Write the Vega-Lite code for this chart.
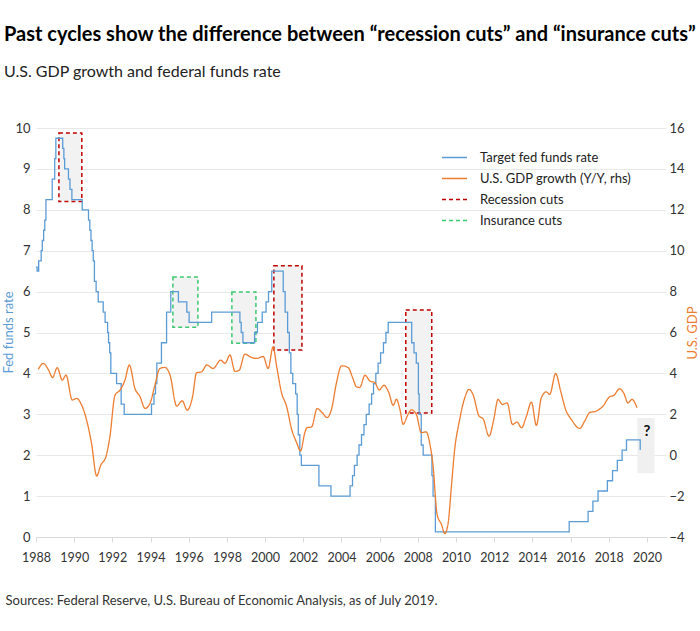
{
  "$schema": "https://vega.github.io/schema/vega-lite/v6.json",
  "autosize": {"type": "none"},
  "width": 630,
  "height": 409,
  "padding": {"left": 36, "top": 128, "right": 34, "bottom": 94},
  "background": "white",
  "title": {
    "text": "Past cycles show the difference between “recession cuts” and “insurance cuts”",
    "subtitle": "U.S. GDP growth and federal funds rate",
    "anchor": "start",
    "frame": "group",
    "dx": -32,
    "offset": 42,
    "font": "Lato",
    "fontSize": 20,
    "fontWeight": "bold",
    "color": "#000000",
    "subtitleFont": "Lato",
    "subtitleFontSize": 16,
    "subtitleColor": "#222222",
    "subtitlePadding": 19
  },
  "config": {
    "view": {"stroke": null},
    "axis": {"labelFont": "Lato", "titleFont": "Lato", "labelFontSize": 12.5, "labelColor": "#333333", "titleFontWeight": "normal", "titleFontSize": 13},
    "axisX": {"labelOverlap": false, "labelFlush": false, "tickColor": "#d9d9d9", "tickSize": 5, "domainColor": "#d9d9d9", "labelPadding": 9, "grid": false},
    "legend": {"labelFont": "Lato", "labelFontSize": 13, "labelColor": "#222222"}
  },
  "datasets": {
    "cuts": [
      {"start": 1989.2, "end": 1990.4, "low": 8.2, "high": 9.88, "series": "Recession cuts"},
      {"start": 1995.17, "end": 1996.48, "low": 5.13, "high": 6.36, "series": "Insurance cuts"},
      {"start": 1998.26, "end": 1999.52, "low": 4.74, "high": 5.99, "series": "Insurance cuts"},
      {"start": 2000.46, "end": 2001.93, "low": 4.57, "high": 6.63, "series": "Recession cuts"},
      {"start": 2007.37, "end": 2008.73, "low": 3.03, "high": 5.55, "series": "Recession cuts"}
    ],
    "pending": [
      {"start": 2019.5, "end": 2020.4, "low": 1.56, "high": 2.91, "mid": 2020.0, "labelY": 2.6, "label": "?"}
    ],
    "fed": [
      {"year": 1988.0, "rate": 6.6}, {"year": 1988.06, "rate": 6.5}, {"year": 1988.14, "rate": 6.75},
      {"year": 1988.27, "rate": 7.0}, {"year": 1988.33, "rate": 7.25}, {"year": 1988.4, "rate": 7.5},
      {"year": 1988.46, "rate": 7.75}, {"year": 1988.52, "rate": 8.25}, {"year": 1988.85, "rate": 8.75},
      {"year": 1988.98, "rate": 9.25}, {"year": 1989.04, "rate": 9.75}, {"year": 1989.4, "rate": 9.5},
      {"year": 1989.46, "rate": 9.25}, {"year": 1989.5, "rate": 9.0}, {"year": 1989.7, "rate": 8.75},
      {"year": 1989.78, "rate": 8.5}, {"year": 1989.88, "rate": 8.25}, {"year": 1990.42, "rate": 8.0},
      {"year": 1990.75, "rate": 7.75}, {"year": 1990.82, "rate": 7.5}, {"year": 1990.88, "rate": 7.25},
      {"year": 1990.94, "rate": 7.0}, {"year": 1991.0, "rate": 6.75}, {"year": 1991.06, "rate": 6.25},
      {"year": 1991.15, "rate": 6.0}, {"year": 1991.26, "rate": 5.75}, {"year": 1991.52, "rate": 5.5},
      {"year": 1991.62, "rate": 5.25}, {"year": 1991.75, "rate": 5.0}, {"year": 1991.8, "rate": 4.75},
      {"year": 1991.86, "rate": 4.5}, {"year": 1991.92, "rate": 4.0}, {"year": 1992.22, "rate": 3.75},
      {"year": 1992.46, "rate": 3.25}, {"year": 1992.62, "rate": 3.0}, {"year": 1994.05, "rate": 3.25},
      {"year": 1994.18, "rate": 3.5}, {"year": 1994.26, "rate": 3.75}, {"year": 1994.33, "rate": 4.25},
      {"year": 1994.57, "rate": 4.75}, {"year": 1994.84, "rate": 5.5}, {"year": 1995.06, "rate": 6.0},
      {"year": 1995.46, "rate": 5.75}, {"year": 1995.9, "rate": 5.5}, {"year": 1996.02, "rate": 5.25},
      {"year": 1997.2, "rate": 5.5}, {"year": 1998.68, "rate": 5.25}, {"year": 1998.75, "rate": 5.0},
      {"year": 1998.84, "rate": 4.75}, {"year": 1999.45, "rate": 5.0}, {"year": 1999.6, "rate": 5.25},
      {"year": 1999.85, "rate": 5.5}, {"year": 2000.05, "rate": 5.75}, {"year": 2000.18, "rate": 6.0},
      {"year": 2000.35, "rate": 6.5}, {"year": 2000.95, "rate": 6.0}, {"year": 2001.05, "rate": 5.5},
      {"year": 2001.18, "rate": 5.0}, {"year": 2001.27, "rate": 4.5}, {"year": 2001.35, "rate": 4.0},
      {"year": 2001.45, "rate": 3.75}, {"year": 2001.6, "rate": 3.5}, {"year": 2001.68, "rate": 3.0},
      {"year": 2001.74, "rate": 2.5}, {"year": 2001.82, "rate": 2.0}, {"year": 2001.9, "rate": 1.75},
      {"year": 2002.82, "rate": 1.25}, {"year": 2003.45, "rate": 1.0}, {"year": 2004.45, "rate": 1.25},
      {"year": 2004.58, "rate": 1.5}, {"year": 2004.68, "rate": 1.75}, {"year": 2004.82, "rate": 2.0},
      {"year": 2004.92, "rate": 2.25}, {"year": 2005.05, "rate": 2.5}, {"year": 2005.18, "rate": 2.75},
      {"year": 2005.3, "rate": 3.0}, {"year": 2005.45, "rate": 3.25}, {"year": 2005.58, "rate": 3.5},
      {"year": 2005.68, "rate": 3.75}, {"year": 2005.8, "rate": 4.0}, {"year": 2005.92, "rate": 4.25},
      {"year": 2006.05, "rate": 4.5}, {"year": 2006.2, "rate": 4.75}, {"year": 2006.33, "rate": 5.0},
      {"year": 2006.45, "rate": 5.25}, {"year": 2007.68, "rate": 4.75}, {"year": 2007.8, "rate": 4.5},
      {"year": 2007.92, "rate": 4.25}, {"year": 2008.03, "rate": 3.5}, {"year": 2008.07, "rate": 3.0},
      {"year": 2008.18, "rate": 2.25}, {"year": 2008.28, "rate": 2.0}, {"year": 2008.74, "rate": 1.5},
      {"year": 2008.8, "rate": 1.0}, {"year": 2008.92, "rate": 0.125}, {"year": 2015.93, "rate": 0.375},
      {"year": 2016.92, "rate": 0.625}, {"year": 2017.17, "rate": 0.875}, {"year": 2017.44, "rate": 1.125},
      {"year": 2017.93, "rate": 1.375}, {"year": 2018.2, "rate": 1.625}, {"year": 2018.45, "rate": 1.875},
      {"year": 2018.7, "rate": 2.125}, {"year": 2018.93, "rate": 2.375}, {"year": 2019.58, "rate": 2.375},
      {"year": 2019.65, "rate": 2.125}
    ],
    "gdp": [
      {"year": 1988.12, "gdp": 4.2}, {"year": 1988.38, "gdp": 4.49}, {"year": 1988.64, "gdp": 4.2},
      {"year": 1988.87, "gdp": 3.8}, {"year": 1989.11, "gdp": 4.28}, {"year": 1989.38, "gdp": 3.67},
      {"year": 1989.57, "gdp": 3.92}, {"year": 1989.9, "gdp": 2.7}, {"year": 1990.13, "gdp": 2.78},
      {"year": 1990.39, "gdp": 2.45}, {"year": 1990.65, "gdp": 1.72}, {"year": 1990.91, "gdp": 0.57},
      {"year": 1991.18, "gdp": -1.02}, {"year": 1991.39, "gdp": -0.49}, {"year": 1991.66, "gdp": -0.08},
      {"year": 1991.87, "gdp": 0.9}, {"year": 1992.14, "gdp": 2.94}, {"year": 1992.4, "gdp": 3.18},
      {"year": 1992.66, "gdp": 3.67}, {"year": 1992.89, "gdp": 4.41}, {"year": 1993.18, "gdp": 3.27},
      {"year": 1993.45, "gdp": 2.86}, {"year": 1993.71, "gdp": 2.29}, {"year": 1993.97, "gdp": 2.53},
      {"year": 1994.23, "gdp": 3.43}, {"year": 1994.49, "gdp": 4.24}, {"year": 1994.75, "gdp": 4.29},
      {"year": 1995.02, "gdp": 3.92}, {"year": 1995.37, "gdp": 2.4}, {"year": 1995.66, "gdp": 2.66},
      {"year": 1995.92, "gdp": 2.2}, {"year": 1996.2, "gdp": 2.86}, {"year": 1996.41, "gdp": 4.03},
      {"year": 1996.68, "gdp": 4.08}, {"year": 1996.94, "gdp": 4.41}, {"year": 1997.28, "gdp": 4.24},
      {"year": 1997.67, "gdp": 4.65}, {"year": 1997.9, "gdp": 4.49}, {"year": 1998.16, "gdp": 4.9},
      {"year": 1998.42, "gdp": 4.1}, {"year": 1998.64, "gdp": 4.15}, {"year": 1998.94, "gdp": 4.94},
      {"year": 1999.29, "gdp": 4.78}, {"year": 1999.55, "gdp": 4.73}, {"year": 1999.9, "gdp": 4.83},
      {"year": 2000.16, "gdp": 4.24}, {"year": 2000.42, "gdp": 5.3}, {"year": 2000.6, "gdp": 4.37},
      {"year": 2000.86, "gdp": 3.06}, {"year": 2001.12, "gdp": 2.41}, {"year": 2001.39, "gdp": 1.27},
      {"year": 2001.65, "gdp": 0.62}, {"year": 2001.86, "gdp": 0.21}, {"year": 2002.08, "gdp": 1.1},
      {"year": 2002.2, "gdp": 1.35}, {"year": 2002.43, "gdp": 1.38}, {"year": 2002.73, "gdp": 2.28},
      {"year": 2002.99, "gdp": 2.08}, {"year": 2003.25, "gdp": 1.84}, {"year": 2003.48, "gdp": 2.25},
      {"year": 2003.74, "gdp": 3.55}, {"year": 2004.0, "gdp": 4.37}, {"year": 2004.35, "gdp": 4.29},
      {"year": 2004.58, "gdp": 3.8}, {"year": 2004.79, "gdp": 3.34}, {"year": 2004.96, "gdp": 3.31},
      {"year": 2005.23, "gdp": 3.91}, {"year": 2005.49, "gdp": 3.63}, {"year": 2005.75, "gdp": 3.55},
      {"year": 2005.98, "gdp": 3.19}, {"year": 2006.22, "gdp": 3.42}, {"year": 2006.48, "gdp": 3.06},
      {"year": 2006.71, "gdp": 2.44}, {"year": 2006.88, "gdp": 2.74}, {"year": 2007.06, "gdp": 2.25},
      {"year": 2007.23, "gdp": 1.51}, {"year": 2007.49, "gdp": 2.0}, {"year": 2007.66, "gdp": 2.22},
      {"year": 2007.92, "gdp": 2.0}, {"year": 2008.18, "gdp": 1.1}, {"year": 2008.44, "gdp": 1.14},
      {"year": 2008.62, "gdp": 0.6}, {"year": 2008.8, "gdp": -0.54}, {"year": 2009.01, "gdp": -2.9},
      {"year": 2009.24, "gdp": -3.39}, {"year": 2009.41, "gdp": -3.83}, {"year": 2009.59, "gdp": -3.31},
      {"year": 2009.76, "gdp": -1.51}, {"year": 2009.93, "gdp": 0.28}, {"year": 2010.16, "gdp": 1.59},
      {"year": 2010.46, "gdp": 2.81}, {"year": 2010.68, "gdp": 3.22}, {"year": 2010.89, "gdp": 2.97},
      {"year": 2011.21, "gdp": 1.91}, {"year": 2011.42, "gdp": 1.78}, {"year": 2011.73, "gdp": 0.93},
      {"year": 2011.98, "gdp": 1.75}, {"year": 2012.2, "gdp": 2.73}, {"year": 2012.43, "gdp": 2.48},
      {"year": 2012.68, "gdp": 2.56}, {"year": 2012.96, "gdp": 1.5}, {"year": 2013.2, "gdp": 1.62},
      {"year": 2013.43, "gdp": 1.34}, {"year": 2013.69, "gdp": 1.91}, {"year": 2013.95, "gdp": 2.6},
      {"year": 2014.21, "gdp": 1.46}, {"year": 2014.47, "gdp": 2.81}, {"year": 2014.73, "gdp": 3.1},
      {"year": 2014.91, "gdp": 2.97}, {"year": 2015.22, "gdp": 4.0}, {"year": 2015.48, "gdp": 3.14},
      {"year": 2015.74, "gdp": 2.24}, {"year": 2016.04, "gdp": 1.75}, {"year": 2016.48, "gdp": 1.31},
      {"year": 2016.74, "gdp": 1.67}, {"year": 2017.0, "gdp": 2.08}, {"year": 2017.35, "gdp": 2.16},
      {"year": 2017.7, "gdp": 2.4}, {"year": 2018.05, "gdp": 2.86}, {"year": 2018.26, "gdp": 2.92},
      {"year": 2018.57, "gdp": 3.25}, {"year": 2018.78, "gdp": 3.05}, {"year": 2019.01, "gdp": 2.56},
      {"year": 2019.22, "gdp": 2.73}, {"year": 2019.48, "gdp": 2.32}
    ]
  },
  "layer": [
    {
      "layer": [
        {
          "data": {"name": "cuts"},
          "mark": {"type": "rect", "fill": "#f2f2f2", "strokeWidth": 1.5, "strokeDash": [4, 3]},
          "encoding": {
            "x": {"field": "start", "type": "quantitative", "scale": {"domain": [1988, 2021], "nice": false, "zero": false},
              "axis": {"title": "Sources: Federal Reserve, U.S. Bureau of Economic Analysis, as of July 2019.", "titleAnchor": "start", "titleAlign": "left", "titleX": -31, "titleY": 63, "titleBaseline": "middle", "titleColor": "#333333", "titleFontSize": 13,
                "values": [1988,1990,1992,1994,1996,1998,2000,2002,2004,2006,2008,2010,2012,2014,2016,2018,2020], "format": "d", "labelOverlap": false, "labelFlush": false}},
            "x2": {"field": "end"},
            "y": {"field": "low", "type": "quantitative", "scale": {"domain": [0, 10], "nice": false},
              "axis": {"orient": "left", "title": "Fed funds rate", "titleColor": "#5b9bd5", "titleX": -28, "titleY": 204, "titleBaseline": "middle", "values": [0,1,2,3,4,5,6,7,8,9,10], "ticks": false, "domain": false, "grid": true, "gridColor": "#e8e8e8", "labelPadding": 6, "labelFontSize": 13}},
            "y2": {"field": "high"},
            "stroke": {"field": "series", "type": "nominal",
              "scale": {"domain": ["Target fed funds rate", "U.S. GDP growth (Y/Y, rhs)", "Recession cuts", "Insurance cuts"], "range": ["#5b9bd5", "#ed7d31", "#c00000", "#3cc86e"]},
              "legend": {"title": null, "orient": "none", "legendX": 405, "legendY": 16, "symbolType": "stroke", "symbolSize": 625, "symbolStrokeWidth": 1.5, "rowPadding": -5, "labelOffset": 12}}
          }
        },
        {
          "data": {"name": "pending"},
          "mark": {"type": "rect", "fill": "#f0f0f0"},
          "encoding": {
            "x": {"field": "start", "type": "quantitative", "scale": {"domain": [1988, 2021], "nice": false, "zero": false},
              "axis": {"title": "Sources: Federal Reserve, U.S. Bureau of Economic Analysis, as of July 2019.", "titleAnchor": "start", "titleAlign": "left", "titleX": -31, "titleY": 63, "titleBaseline": "middle", "titleColor": "#333333", "titleFontSize": 13,
                "values": [1988,1990,1992,1994,1996,1998,2000,2002,2004,2006,2008,2010,2012,2014,2016,2018,2020], "format": "d", "labelOverlap": false, "labelFlush": false}},
            "x2": {"field": "end"},
            "y": {"field": "low", "type": "quantitative", "scale": {"domain": [0, 10], "nice": false}},
            "y2": {"field": "high"}
          }
        },
        {
          "data": {"name": "pending"},
          "mark": {"type": "text", "font": "Lato", "fontSize": 15, "fontWeight": "bold", "color": "#111111"},
          "encoding": {
            "x": {"field": "mid", "type": "quantitative", "scale": {"domain": [1988, 2021], "nice": false, "zero": false},
              "axis": {"title": "Sources: Federal Reserve, U.S. Bureau of Economic Analysis, as of July 2019.", "titleAnchor": "start", "titleAlign": "left", "titleX": -31, "titleY": 63, "titleBaseline": "middle", "titleColor": "#333333", "titleFontSize": 13,
                "values": [1988,1990,1992,1994,1996,1998,2000,2002,2004,2006,2008,2010,2012,2014,2016,2018,2020], "format": "d", "labelOverlap": false, "labelFlush": false}},
            "y": {"field": "labelY", "type": "quantitative", "scale": {"domain": [0, 10], "nice": false}},
            "text": {"field": "label"}
          }
        },
        {
          "data": {"name": "fed"},
          "mark": {"type": "line", "interpolate": "step-after", "strokeWidth": 1.3},
          "encoding": {
            "x": {"field": "year", "type": "quantitative", "scale": {"domain": [1988, 2021], "nice": false, "zero": false},
              "axis": {"title": "Sources: Federal Reserve, U.S. Bureau of Economic Analysis, as of July 2019.", "titleAnchor": "start", "titleAlign": "left", "titleX": -31, "titleY": 63, "titleBaseline": "middle", "titleColor": "#333333", "titleFontSize": 13,
                "values": [1988,1990,1992,1994,1996,1998,2000,2002,2004,2006,2008,2010,2012,2014,2016,2018,2020], "format": "d", "labelOverlap": false, "labelFlush": false}},
            "y": {"field": "rate", "type": "quantitative", "scale": {"domain": [0, 10], "nice": false}},
            "stroke": {"datum": "Target fed funds rate", "type": "nominal",
              "scale": {"domain": ["Target fed funds rate", "U.S. GDP growth (Y/Y, rhs)", "Recession cuts", "Insurance cuts"], "range": ["#5b9bd5", "#ed7d31", "#c00000", "#3cc86e"]}},
            "strokeDash": {"datum": "Target fed funds rate", "type": "nominal",
              "scale": {"domain": ["Target fed funds rate", "U.S. GDP growth (Y/Y, rhs)", "Recession cuts", "Insurance cuts"], "range": [[1, 0], [1, 0], [4, 3], [4, 3]]},
              "legend": {"title": null, "orient": "none", "legendX": 405, "legendY": 16, "symbolType": "stroke", "symbolSize": 625, "symbolStrokeWidth": 1.5, "rowPadding": -5, "labelOffset": 12}}
          }
        }
      ]
    },
    {
      "data": {"name": "gdp"},
      "mark": {"type": "line", "interpolate": "monotone", "strokeWidth": 1.3},
      "encoding": {
        "x": {"field": "year", "type": "quantitative", "scale": {"domain": [1988, 2021], "nice": false, "zero": false},
          "axis": {"title": "Sources: Federal Reserve, U.S. Bureau of Economic Analysis, as of July 2019.", "titleAnchor": "start", "titleAlign": "left", "titleX": -31, "titleY": 63, "titleBaseline": "middle", "titleColor": "#333333", "titleFontSize": 13,
            "values": [1988,1990,1992,1994,1996,1998,2000,2002,2004,2006,2008,2010,2012,2014,2016,2018,2020], "format": "d", "labelOverlap": false, "labelFlush": false}},
        "y": {"field": "gdp", "type": "quantitative", "scale": {"domain": [-4, 16], "nice": false},
          "axis": {"orient": "right", "title": "U.S. GDP", "titleColor": "#ed7d31", "titleAngle": 270, "titleBaseline": "top", "values": [-4,-2,0,2,4,6,8,10,12,14,16], "ticks": false, "domain": false, "grid": false, "labelPadding": 3, "titlePadding": 2, "labelFontSize": 13}},
        "stroke": {"datum": "U.S. GDP growth (Y/Y, rhs)", "type": "nominal",
          "scale": {"domain": ["Target fed funds rate", "U.S. GDP growth (Y/Y, rhs)", "Recession cuts", "Insurance cuts"], "range": ["#5b9bd5", "#ed7d31", "#c00000", "#3cc86e"]}},
        "strokeDash": {"datum": "U.S. GDP growth (Y/Y, rhs)", "type": "nominal",
          "scale": {"domain": ["Target fed funds rate", "U.S. GDP growth (Y/Y, rhs)", "Recession cuts", "Insurance cuts"], "range": [[1, 0], [1, 0], [4, 3], [4, 3]]}}
      }
    }
  ],
  "resolve": {"scale": {"y": "independent"}}
}
